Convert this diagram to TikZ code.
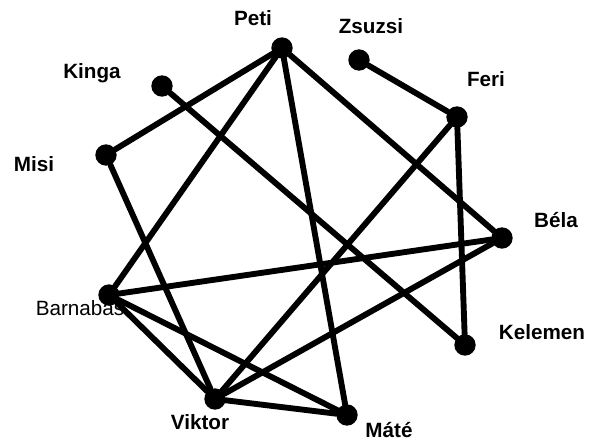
\documentclass[tikz,border=0pt]{standalone}
\usepackage{fontspec}
\setmainfont{Liberation Sans}
\begin{document}
\begin{tikzpicture}[x=0.75pt,y=-0.75pt,
  dot/.style={circle,fill=black,inner sep=0pt,minimum size=16pt},
  edge/.style={line width=4.4pt,line cap=round},
  lbl/.style={anchor=base,font=\fontsize{15.5pt}{18pt}\selectfont\bfseries,text=black,inner sep=0pt},
  lblr/.style={anchor=base,font=\fontsize{15.5pt}{18pt}\selectfont,text=black,inner sep=0pt}]
\useasboundingbox (0,0) rectangle (600,441);
% labels
\node[lbl] (tpeti) at (253,26) {Peti};
\node[lbl] (tzsuzsi) at (371,34) {Zsuzsi};
\node[lbl] (tkinga) at (92,79) {Kinga};
\node[lbl] (tferi) at (486,87) {Feri};
\node[lbl] (tmisi) at (34,172) {Misi};
\node[lbl] (tbela) at (556,228) {Béla};
\node[lbl] (tkelemen) at (542,340) {Kelemen};
\node[lbl] (tviktor) at (200,430) {Viktor};
\node[lbl] (tmate) at (389,438) {Máté};
\node[lblr] (tbarnabas) at (80,316) {Barnabas};
% nodes
\node[dot] (peti) at (282,48) {};
\node[dot] (zsuzsi) at (359,60) {};
\node[dot] (kinga) at (162,86) {};
\node[dot] (feri) at (457,117) {};
\node[dot] (misi) at (106,155) {};
\node[dot] (bela) at (502,238) {};
\node[dot] (barnabas) at (109,295) {};
\node[dot] (kelemen) at (465,345) {};
\node[dot] (viktor) at (215,399) {};
\node[dot] (mate) at (347,415) {};
% edges
\draw[edge] (peti) -- (misi);
\draw[edge] (peti) -- (barnabas);
\draw[edge] (peti) -- (bela);
\draw[edge] (peti) -- (mate);
\draw[edge] (zsuzsi) -- (feri);
\draw[edge] (kinga) -- (kelemen);
\draw[edge] (feri) -- (kelemen);
\draw[edge] (feri) -- (viktor);
\draw[edge] (misi) -- (viktor);
\draw[edge] (bela) -- (barnabas);
\draw[edge] (bela) -- (viktor);
\draw[edge] (barnabas) -- (viktor);
\draw[edge] (barnabas) -- (mate);
\draw[edge] (viktor) -- (mate);
\end{tikzpicture}
\end{document}
